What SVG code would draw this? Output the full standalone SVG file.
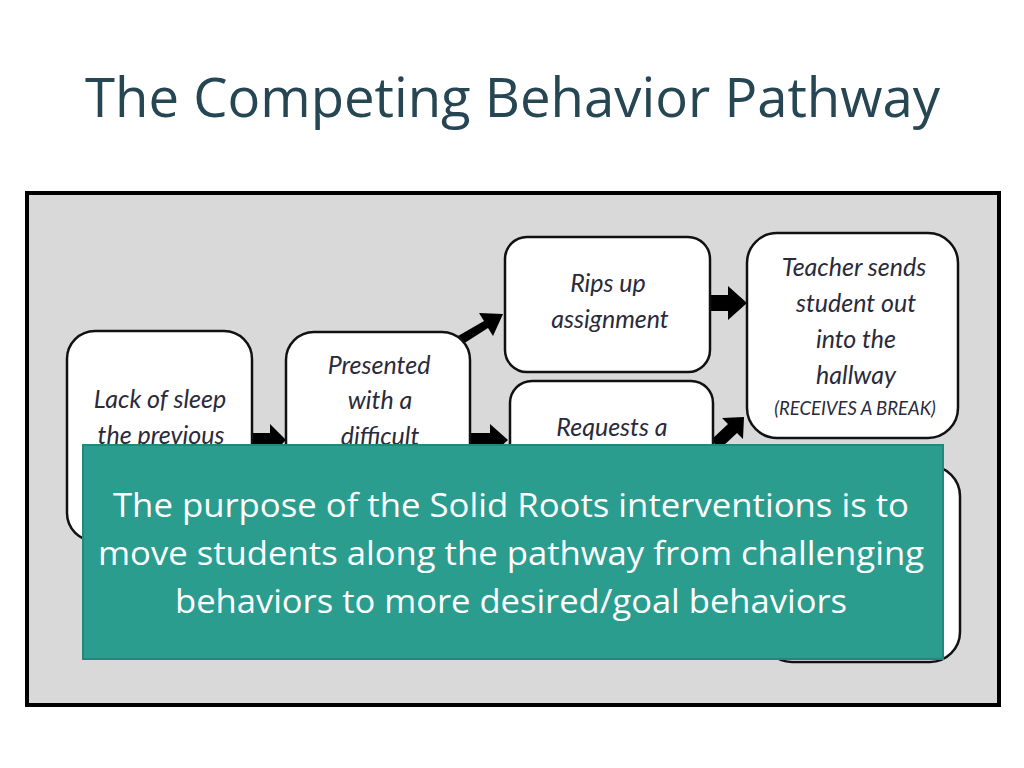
<svg xmlns="http://www.w3.org/2000/svg" width="1024" height="768" viewBox="0 0 1024 768">
<style>
.node{fill:#ffffff;stroke:#111111;stroke-width:2.5}
.lbl{font-family:Lato,"Open Sans","Liberation Sans",sans-serif;font-style:italic;font-size:25px;fill:#2a2a3a;text-anchor:middle}
.sm{font-size:18.5px}
.arr{fill:#000000}
.title{font-family:"Open Sans","Liberation Sans",sans-serif;font-size:54px;fill:#264653}
.msg{font-family:"Open Sans","Liberation Sans",sans-serif;font-size:33px;fill:#ffffff;text-anchor:middle}
</style>
<rect width="1024" height="768" fill="#ffffff"/>
<text class="title" x="85" y="117" textLength="855" lengthAdjust="spacingAndGlyphs">The Competing Behavior Pathway</text>
<rect x="27" y="193" width="972" height="512" fill="#d9d9d9" stroke="#000000" stroke-width="4"/>
<g id="connectors">
  <path class="arr" d="M252,433 L270,433 L270,424 L286,440 L270,456 L270,447 L252,447 Z"/>
  <path class="arr" d="M470,433 L490,433 L490,424 L508,440 L490,456 L490,447 L470,447 Z"/>
  <path class="arr" d="M458,336 L484,321 L479,313 L503,314 L493,336 L488,328 L463,344 Z"/>
  <path class="arr" d="M710,295 L728,295 L728,286 L747,303 L728,320 L728,311 L710,311 Z"/>
  <path class="arr" d="M711,440 L728,424 L722,418 L744,417 L743,439 L737,433 L720,449 Z"/>
</g>
<g id="node-lack-of-sleep">
  <rect class="node" x="67" y="331" width="185" height="210" rx="28"/>
  <text class="lbl" x="160" y="408">Lack of sleep</text>
  <text class="lbl" x="161" y="444">the previous</text>
</g>
<g id="node-presented">
  <rect class="node" x="286" y="332" width="184" height="210" rx="28"/>
  <text class="lbl" x="379" y="374">Presented</text>
  <text class="lbl" x="380" y="409">with a</text>
  <text class="lbl" x="380" y="445">difficult</text>
</g>
<g id="node-rips-up">
  <rect class="node" x="505" y="237" width="205" height="135" rx="22"/>
  <text class="lbl" x="608" y="292">Rips up</text>
  <text class="lbl" x="610" y="328">assignment</text>
</g>
<g id="node-requests">
  <rect class="node" x="510" y="381" width="203" height="180" rx="22"/>
  <text class="lbl" x="612" y="436">Requests a</text>
</g>
<g id="node-teacher">
  <rect class="node" x="747" y="233" width="211" height="205" rx="30"/>
  <text class="lbl" x="854" y="276">Teacher sends</text>
  <text class="lbl" x="856" y="312">student out</text>
  <text class="lbl" x="856" y="348">into the</text>
  <text class="lbl" x="856" y="384">hallway</text>
  <text class="lbl sm" x="855" y="415">(RECEIVES A BREAK)</text>
</g>
<g id="node-bottom-right">
  <rect class="node" x="762" y="466" width="198" height="196" rx="30"/>
</g>
<g id="callout">
  <rect x="83" y="445" width="860" height="214" fill="#2a9d8f" stroke="#23887c" stroke-width="2"/>
  <text class="msg" x="511" y="517" textLength="796" lengthAdjust="spacingAndGlyphs">The purpose of the Solid Roots interventions is to</text>
  <text class="msg" x="511" y="565" textLength="826" lengthAdjust="spacingAndGlyphs">move students along the pathway from challenging</text>
  <text class="msg" x="511" y="613" textLength="672" lengthAdjust="spacingAndGlyphs">behaviors to more desired/goal behaviors</text>
</g>
</svg>
